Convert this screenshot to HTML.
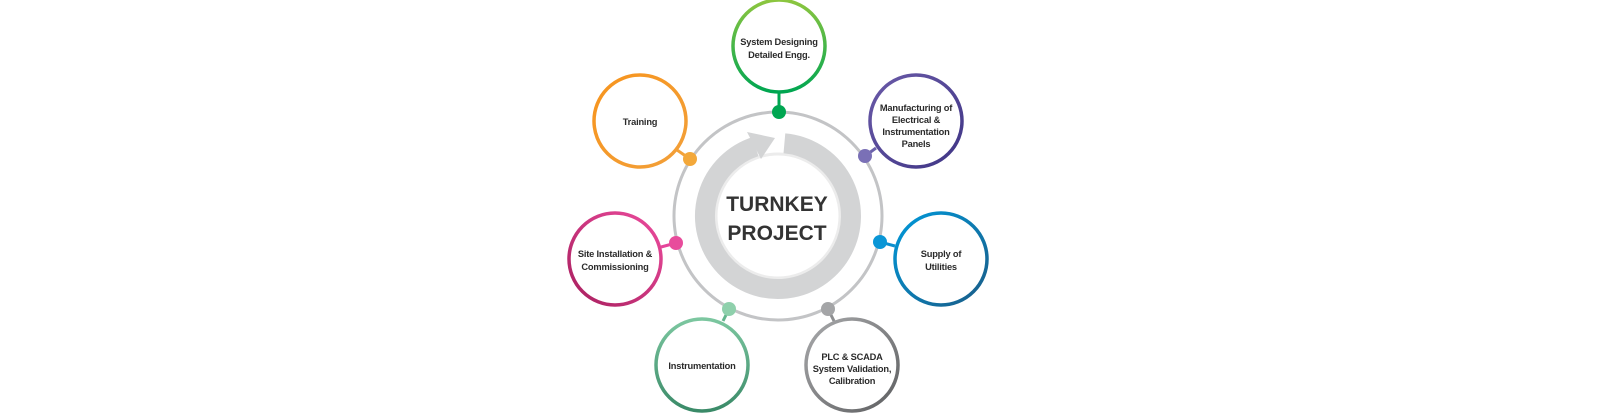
<!DOCTYPE html>
<html><head><meta charset="utf-8"><style>
html,body{margin:0;padding:0;background:#fff;}
svg{display:block;}
text{font-family:"Liberation Sans",sans-serif;font-weight:bold;fill:#2b2b2b;text-anchor:middle;}
.s{font-size:9.3px;}
</style></head><body>
<svg width="1600" height="417" viewBox="0 0 1600 417" xmlns="http://www.w3.org/2000/svg">
<defs>
<linearGradient id="gG" x1="0" y1="0" x2="0" y2="1"><stop offset="0" stop-color="#8dc63f"/><stop offset="1" stop-color="#00a651"/></linearGradient>
<linearGradient id="gP" x1="0" y1="0" x2="1" y2="1"><stop offset="0" stop-color="#6a5aa8"/><stop offset="1" stop-color="#3f3585"/></linearGradient>
<linearGradient id="gO" x1="0" y1="0" x2="1" y2="1"><stop offset="0" stop-color="#f7941d"/><stop offset="1" stop-color="#f2a03a"/></linearGradient>
<linearGradient id="gK" x1="1" y1="0" x2="0" y2="1"><stop offset="0" stop-color="#ec4b9d"/><stop offset="1" stop-color="#a81f5e"/></linearGradient>
<linearGradient id="gB" x1="0" y1="0" x2="1" y2="1"><stop offset="0" stop-color="#0099da"/><stop offset="1" stop-color="#1a5c87"/></linearGradient>
<linearGradient id="gT" x1="0" y1="0" x2="0" y2="1"><stop offset="0" stop-color="#7cc7a0"/><stop offset="1" stop-color="#3a8a68"/></linearGradient>
<linearGradient id="gY" x1="0" y1="0" x2="1" y2="1"><stop offset="0" stop-color="#a8a9ab"/><stop offset="1" stop-color="#5e5f61"/></linearGradient>
</defs>
<circle cx="778" cy="216" r="104" fill="none" stroke="#c3c4c6" stroke-width="3"/>
<circle cx="778" cy="216" r="62" fill="none" stroke="#ececec" stroke-width="3"/>
<path d="M784.4 143.3 A73 73 0 1 1 755.4 146.6" fill="none" stroke="#d3d4d5" stroke-width="20"/>
<polygon points="747,132 775,138 761,159" fill="#d3d4d5"/>
<text x="777" y="211" style="font-size:21px;fill:#333">TURNKEY</text>
<text x="777" y="240" style="font-size:21px;fill:#333">PROJECT</text>
<g stroke-width="3">
<line x1="779" y1="112" x2="779" y2="92" stroke="#00a651"/>
<line x1="865" y1="156" x2="876" y2="148" stroke="#6c62ab"/>
<line x1="690" y1="159" x2="677" y2="150" stroke="#f3a23a"/>
<line x1="676" y1="243" x2="661" y2="247" stroke="#e5449a"/>
<line x1="880" y1="242" x2="895" y2="246" stroke="#0c8fcf"/>
<line x1="729" y1="309" x2="723" y2="321" stroke="#64b58e"/>
<line x1="828" y1="309" x2="834" y2="321" stroke="#8e8f91"/>
</g>
<circle cx="779" cy="112" r="7" fill="#00a651"/>
<circle cx="865" cy="156" r="7" fill="#7a70b6"/>
<circle cx="690" cy="159" r="7" fill="#f3a83a"/>
<circle cx="676" cy="243" r="7" fill="#e84c9c"/>
<circle cx="880" cy="242" r="7" fill="#0a96d6"/>
<circle cx="729" cy="309" r="7" fill="#8fd0ac"/>
<circle cx="828" cy="309" r="7" fill="#a4a5a7"/>
<g fill="#fff" stroke-width="3.5">
<circle cx="779" cy="46" r="46" stroke="url(#gG)"/>
<circle cx="916" cy="121" r="46" stroke="url(#gP)"/>
<circle cx="640" cy="121" r="46" stroke="url(#gO)"/>
<circle cx="615" cy="259" r="46" stroke="url(#gK)"/>
<circle cx="941" cy="259" r="46" stroke="url(#gB)"/>
<circle cx="702" cy="365" r="46" stroke="url(#gT)"/>
<circle cx="852" cy="365" r="46" stroke="url(#gY)"/>
</g>
<g style="letter-spacing:-0.2px">
<text class="s" x="779" y="45">System Designing</text>
<text class="s" x="779" y="58">Detailed Engg.</text>
<text class="s" x="916" y="111">Manufacturing of</text>
<text class="s" x="916" y="123">Electrical &amp;</text>
<text class="s" x="916" y="135">Instrumentation</text>
<text class="s" x="916" y="147">Panels</text>
<text class="s" x="640" y="125">Training</text>
<text class="s" x="615" y="257">Site Installation &amp;</text>
<text class="s" x="615" y="270">Commissioning</text>
<text class="s" x="941" y="257">Supply of</text>
<text class="s" x="941" y="270">Utilities</text>
<text class="s" x="702" y="369">Instrumentation</text>
<text class="s" x="852" y="360">PLC &amp; SCADA</text>
<text class="s" x="852" y="372">System Validation,</text>
<text class="s" x="852" y="384">Calibration</text>
</g>
</svg>
</body></html>
